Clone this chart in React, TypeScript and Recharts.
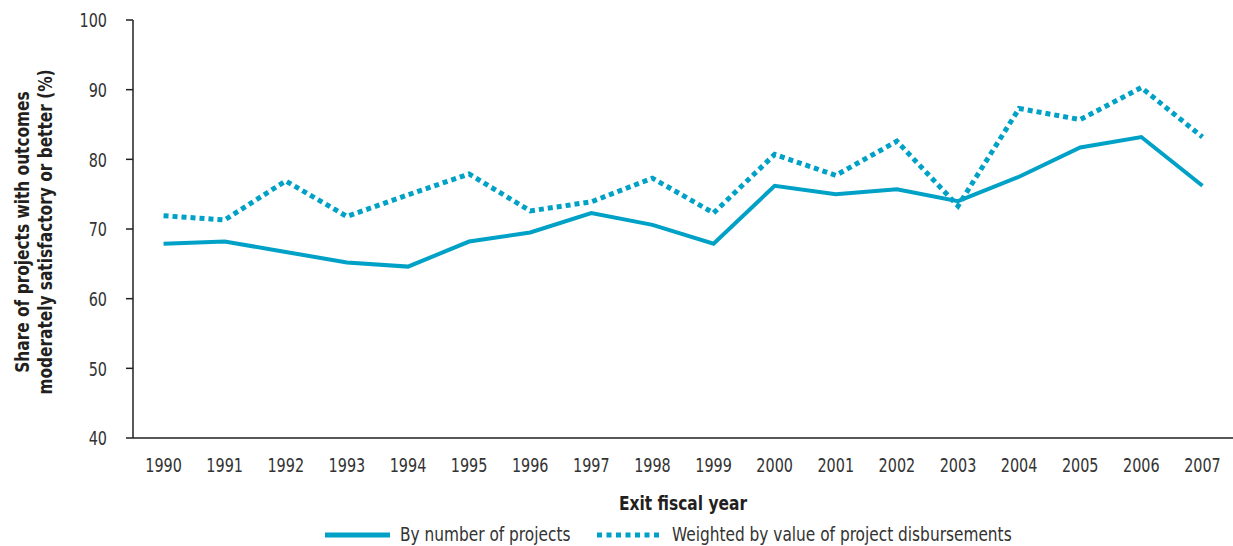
import React from "react";
import { LineChart, Line, XAxis, YAxis, Legend } from "recharts";

const years = [
  "1990", "1991", "1992", "1993", "1994", "1995", "1996", "1997", "1998",
  "1999", "2000", "2001", "2002", "2003", "2004", "2005", "2006", "2007",
];
const byNumber = [
  67.9, 68.2, 66.7, 65.2, 64.6, 68.2, 69.5, 72.3, 70.6,
  67.9, 76.2, 75.0, 75.7, 74.0, 77.5, 81.7, 83.2, 76.2,
];
const weighted = [
  71.9, 71.3, 76.9, 71.8, 74.9, 77.9, 72.6, 73.9, 77.3,
  72.3, 80.7, 77.7, 82.6, 73.3, 87.3, 85.7, 90.3, 83.2,
];
const yTicks = [40, 50, 60, 70, 80, 90, 100];
const seriesNames = ["By number of projects", "Weighted by value of project disbursements"];

const data = years.map((year, i) => ({ year, byNumber: byNumber[i], weighted: weighted[i] }));
// tick marks sit on the boundaries between the year bands
const edgeTicks = [...years.map((_, i) => i), years.length];

const COLOR = "#00a1c6";
const INK = "#231f20";
const FONT = "'DejaVu Sans Condensed', 'DejaVu Sans', sans-serif";

// no narrow font installed, so squeeze the condensed one horizontally
function Narrow({
  x, y, anchor = "middle", size, bold, squeeze, dy, children,
}: {
  x: number; y: number; anchor?: string; size: number; bold?: boolean; squeeze: number; dy?: string;
  children: React.ReactNode;
}) {
  return (
    <g transform={`translate(${x},${y})`}>
      <text
        transform={`scale(${squeeze},1)`}
        textAnchor={anchor}
        dy={dy}
        fontFamily={FONT}
        fontSize={size}
        fontWeight={bold ? "bold" : "normal"}
        fill={bold ? INK : "#333"}
      >
        {children}
      </text>
    </g>
  );
}

const XTick = (props: any) => (
  <Narrow x={props.x} y={props.y} size={20} squeeze={0.8} dy="0.71em">
    {props.payload.value}
  </Narrow>
);

const YTick = (props: any) => (
  <Narrow x={props.x} y={props.y} anchor="end" size={20} squeeze={0.8} dy="0.36em">
    {props.payload.value}
  </Narrow>
);

function XLabel({ viewBox }: any) {
  if (!viewBox) return null;
  return (
    <Narrow x={viewBox.x + viewBox.width / 2} y={viewBox.y + viewBox.height - 14} size={20} bold squeeze={0.86}>
      Exit fiscal year
    </Narrow>
  );
}

function YLabel({ viewBox }: any) {
  if (!viewBox) return null;
  const cy = viewBox.y + viewBox.height / 2 + 3;
  return (
    <g transform={`translate(0,${cy}) rotate(-90)`}>
      <Narrow x={0} y={29} size={19} bold squeeze={0.9}>Share of projects with outcomes</Narrow>
      <Narrow x={0} y={52} size={19} bold squeeze={0.9}>moderately satisfactory or better (%)</Narrow>
    </g>
  );
}

function LegendBox() {
  const item = (dashed: boolean, label: string, left: number) => (
    <g>
      <line
        x1={left}
        y1={11}
        x2={left + 65}
        y2={11}
        stroke={COLOR}
        strokeWidth={5}
        strokeDasharray={dashed ? "5 4.5" : undefined}
      />
      <Narrow x={left + 75} y={17} anchor="start" size={20} squeeze={0.855}>{label}</Narrow>
    </g>
  );
  return (
    <svg width={1233} height={22} style={{ display: "block", overflow: "visible" }}>
      {item(false, seriesNames[0], 325)}
      {item(true, seriesNames[1], 597)}
    </svg>
  );
}

export default function App() {
  return (
    <div style={{ position: "absolute", left: 0, top: 0, background: "#fff" }}>
      <LineChart width={1233} height={546} data={data} margin={{ top: 20, right: 0, bottom: 0, left: 0 }}>
        <XAxis
          xAxisId="edges"
          type="number"
          domain={[0, years.length]}
          ticks={edgeTicks}
          tick={false}
          tickSize={6}
          axisLine={false}
          tickLine={{ stroke: INK, strokeWidth: 1.5 }}
          height={0}
          allowDataOverflow
        />
        <XAxis
          dataKey="year"
          scale="band"
          interval={0}
          tickLine={false}
          tickSize={6}
          tickMargin={14}
          axisLine={{ stroke: INK, strokeWidth: 1.5 }}
          tick={<XTick />}
          height={86}
          label={<XLabel />}
        />
        <YAxis
          domain={[40, 100]}
          ticks={yTicks}
          width={133}
          tickSize={7}
          tickMargin={19}
          axisLine={{ stroke: INK, strokeWidth: 1.5 }}
          tickLine={{ stroke: INK, strokeWidth: 1.5 }}
          tick={<YTick />}
          label={<YLabel />}
        />
        <Legend verticalAlign="bottom" content={() => <LegendBox />} />
        <Line
          type="linear"
          dataKey="byNumber"
          name={seriesNames[0]}
          stroke={COLOR}
          strokeWidth={4}
          dot={false}
          activeDot={false}
          isAnimationActive={false}
        />
        <Line
          type="linear"
          dataKey="weighted"
          name={seriesNames[1]}
          stroke={COLOR}
          strokeWidth={5}
          strokeDasharray="5 4"
          dot={false}
          activeDot={false}
          isAnimationActive={false}
        />
      </LineChart>
    </div>
  );
}
